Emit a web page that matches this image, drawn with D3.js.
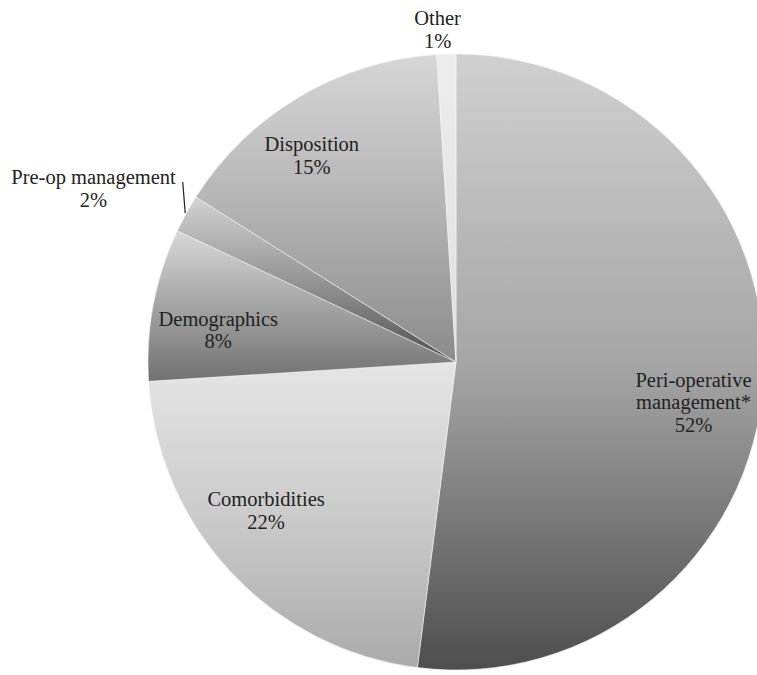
<!DOCTYPE html>
<html>
<head>
<meta charset="utf-8">
<script src="https://cdn.jsdelivr.net/npm/d3@7"></script>
<style>
  html, body { margin: 0; padding: 0; background: #ffffff; }
  svg { display: block; }
  text { font-family: "Liberation Serif", "Times New Roman", serif; fill: #222; }
</style>
</head>
<body>
<svg id="chart" width="757" height="675"></svg>
<script>
// Share of items by category (percent), clockwise from 12 o'clock
const categories = ["Peri-operative management*", "Comorbidities", "Demographics", "Pre-op management", "Disposition", "Other"];
const values = [52, 22, 8, 2, 15, 1];
const labelLines = [["Peri-operative", "management*"], ["Comorbidities"], ["Demographics"], ["Pre-op management"], ["Disposition"], ["Other"]];

// Vertical gradient fill of each slice (top colour, mid colour, bottom colour)
const sliceShades = [
  ["#d0d0d0", "#a6a6a6", "#4e4e4e"],
  ["#e5e5e5", "#cbcbcb", "#aaaaaa"],
  ["#d8d8d8", "#a4a4a4", "#717171"],
  ["#d2d2d2", "#969696", "#505050"],
  ["#d6d6d6", "#b3b3b3", "#8b8b8b"],
  ["#ececec", "#e6e6e6", "#dedede"]
];
// Label placement: radius of the label anchor along the slice mid-angle, plus a nudge
const labelRadius = [240, 240, 240, 400, 240, 333];
const labelNudge = [[-2, 25], [-15, -16], [-2, 13], [-12, 19], [-22, 0], [-8, 0]];
const outsideLabel = [false, false, false, true, false, false];

const cx = 456, cy = 362, R = 308;
const fontSize = 20.5, lineGap = 22.5;

const svg = d3.select("#chart");
const defs = svg.append("defs");

sliceShades.forEach((s, i) => {
  const g = defs.append("linearGradient")
    .attr("id", "shade" + i)
    .attr("x1", 0).attr("y1", 0).attr("x2", 0).attr("y2", 1);
  g.append("stop").attr("offset", "0%").attr("stop-color", s[0]);
  g.append("stop").attr("offset", "50%").attr("stop-color", s[1]);
  g.append("stop").attr("offset", "100%").attr("stop-color", s[2]);
});

const data = categories.map((c, i) => ({ name: c, value: values[i], idx: i }));

const pie = d3.pie().value(d => d.value).sort(null).startAngle(0).endAngle(2 * Math.PI);
const arcs = pie(data);
const arc = d3.arc().innerRadius(0).outerRadius(R);

const g = svg.append("g").attr("transform", `translate(${cx},${cy})`);

g.selectAll("path.slice")
  .data(arcs)
  .join("path")
  .attr("class", "slice")
  .attr("d", arc)
  .attr("fill", d => `url(#shade${d.data.idx})`)
  .attr("stroke", "#f4f4f4")
  .attr("stroke-width", 0.8)
  .attr("stroke-opacity", 0.7);

// Labels: name line(s) followed by the percentage
arcs.forEach(d => {
  const i = d.data.idx;
  const mid = (d.startAngle + d.endAngle) / 2;
  const r = labelRadius[i];
  const x = r * Math.sin(mid) + labelNudge[i][0];
  const y = -r * Math.cos(mid) + labelNudge[i][1];
  const lines = labelLines[i].concat([d.data.value + "%"]);
  const n = lines.length;
  const t = g.append("text")
    .attr("text-anchor", "middle")
    .attr("font-size", fontSize + "px");
  lines.forEach((ln, k) => {
    t.append("tspan")
      .attr("x", x)
      .attr("y", y + (k - (n - 1) / 2) * lineGap)
      .attr("dy", "0.35em")
      .text(ln);
  });

  if (outsideLabel[i]) {
    // Leader line from the slice edge up to the end of the label's first line
    const ex = (R + 1) * Math.sin(mid);
    const ey = -(R + 1) * Math.cos(mid);
    const firstY = y - (n - 1) / 2 * lineGap;
    g.append("line")
      .attr("x1", ex).attr("y1", ey)
      .attr("x2", ex - 2.5).attr("y2", firstY + 5)
      .attr("stroke", "#222")
      .attr("stroke-width", 1.2);
  }
});
</script>
</body>
</html>
